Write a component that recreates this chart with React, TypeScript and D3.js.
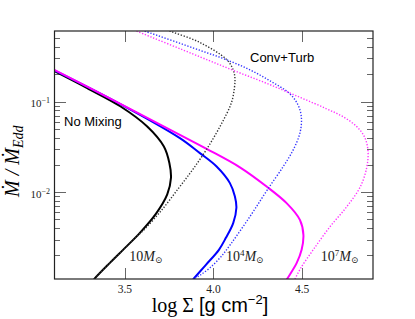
import React from "react";
import * as d3 from "d3";

const W = 415;
const H = 319;
const PLOT = { left: 54, top: 31, right: 373, bottom: 279 };

const xDomain: [number, number] = [3.1, 4.9];
const yDomain: [number, number] = [0.0011, 0.6];
const xTicks = [3.5, 4.0, 4.5];
const xTickLabels = ["3.5", "4.0", "4.5"];
const yMajorTicks = [0.1, 0.01];
const yTickExps = ["−1", "−2"];

// [log Sigma, Mdot/MdotEdd]
const noMix10: [number, number][] = [
  [3.099, 0.218], [3.287, 0.1406], [3.476, 0.0881], [3.626, 0.053], [3.72, 0.0319],
  [3.751, 0.021], [3.76, 0.01438], [3.739, 0.00945], [3.6749, 0.005761],
  [3.5847, 0.003555], [3.5096, 0.002522], [3.4153, 0.001658], [3.3279, 0.001104], [3.32, 0.00105],
];
const noMix1e4: [number, number][] = [
  [3.099, 0.2221], [3.4718, 0.0943], [3.8104, 0.03945], [3.9233, 0.02694], [4.0175, 0.01917],
  [4.0926, 0.01257], [4.1208, 0.00894], [4.1292, 0.00671], [4.1112, 0.00455],
  [4.07, 0.00313], [4.0305, 0.00231], [3.9571, 0.001576], [3.8866, 0.001096], [3.88, 0.00105],
];
const noMix1e7: [number, number][] = [
  [3.099, 0.2254], [3.4718, 0.095], [3.8104, 0.0429], [3.9611, 0.03005], [4.149, 0.01878],
  [4.2997, 0.01153], [4.4125, 0.00756], [4.4876, 0.00494], [4.5073, 0.00338],
  [4.4972, 0.00231], [4.469, 0.001646], [4.4159, 0.001104], [4.41, 0.00105],
];
const conv10: [number, number][] = [
  [3.6411, 0.7258], [3.754, 0.5984], [3.9233, 0.4479], [4.0739, 0.2908], [4.1112, 0.2238],
  [4.1208, 0.1827], [4.118, 0.1416], [4.101, 0.09676], [4.0418, 0.0553], [3.9628, 0.03005],
  [3.8837, 0.01785], [3.8047, 0.01115], [3.7088, 0.00638], [3.6185, 0.004036],
  [3.5621, 0.003171], [3.5096, 0.002522], [3.4153, 0.001658], [3.3279, 0.001104], [3.32, 0.00105],
];
const conv1e4: [number, number][] = [
  [3.5, 0.7112], [3.6072, 0.6031], [3.9233, 0.3673], [4.0739, 0.2886], [4.2054, 0.2238],
  [4.3183, 0.1693], [4.4312, 0.1216], [4.4791, 0.0897], [4.4961, 0.0661], [4.4876, 0.0448],
  [4.4498, 0.0293], [4.3934, 0.01917], [4.3037, 0.0106], [4.2308, 0.00638], [4.1659, 0.00414],
  [4.0982, 0.002688], [4.0418, 0.001931], [3.9797, 0.001461], [3.9233, 0.001207],
  [3.8866, 0.001096], [3.88, 0.00105],
];
const conv1e7: [number, number][] = [
  [3.4718, 0.7112], [3.566, 0.5984], [3.9233, 0.3113], [4.1112, 0.221], [4.2997, 0.1588],
  [4.4876, 0.1113], [4.6383, 0.0831], [4.7319, 0.0678], [4.8076, 0.053], [4.8516, 0.0408],
  [4.8713, 0.0293], [4.8657, 0.01917], [4.829, 0.01153], [4.7528, 0.00694], [4.6569, 0.00414],
  [4.5626, 0.00231], [4.4932, 0.001461], [4.4594, 0.001096], [4.455, 0.00105],
];

const solidSeries = [
  { data: noMix10, color: "#000000" },
  { data: noMix1e4, color: "#0000ff" },
  { data: noMix1e7, color: "#ff00ff" },
];
const dottedSeries = [
  { data: conv10, color: "#333333" },
  { data: conv1e4, color: "#3333ff" },
  { data: conv1e7, color: "#ff33ff" },
];

const massLabels = [
  { x: 3.525, y: 0.00175, base: "10", exp: "" },
  { x: 4.07, y: 0.00175, base: "10", exp: "4" },
  { x: 4.605, y: 0.00175, base: "10", exp: "7" },
];

export default function App() {
  const x = d3.scaleLinear().domain(xDomain).range([PLOT.left, PLOT.right]);
  const y = d3.scaleLog().domain(yDomain).range([PLOT.bottom, PLOT.top]);
  const line = d3
    .line<[number, number]>()
    .x((d) => x(d[0]))
    .y((d) => y(d[1]))
    .curve(d3.curveCatmullRom.alpha(0.5));

  const minor: number[] = [];
  for (let e = -3; e <= -1; e++) {
    for (let k = 2; k <= 9; k++) {
      const v = k * Math.pow(10, e);
      if (v > yDomain[0] && v < yDomain[1]) minor.push(v);
    }
  }

  const serif = "'Liberation Serif', 'DejaVu Serif', serif";
  const sans = "'Liberation Sans', Arial, sans-serif";
  const tickColor = "#666";

  return (
    <svg width={W} height={H} style={{ position: "absolute", left: 0, top: 0 }}>
      <defs>
        <clipPath id="plotclip">
          <rect x={PLOT.left} y={PLOT.top} width={PLOT.right - PLOT.left} height={PLOT.bottom - PLOT.top} />
        </clipPath>
      </defs>
      <rect x={0} y={0} width={W} height={H} fill="#fff" />

      {/* ticks */}
      <g stroke={tickColor} strokeWidth={1}>
        {xTicks.map((t, i) => (
          <g key={"xt" + i}>
            <line x1={Math.round(x(t)) + 0.5} x2={Math.round(x(t)) + 0.5} y1={PLOT.bottom} y2={PLOT.bottom - 11} />
            <line x1={Math.round(x(t)) + 0.5} x2={Math.round(x(t)) + 0.5} y1={PLOT.top} y2={PLOT.top + 11} />
          </g>
        ))}
        {yMajorTicks.map((t, i) => (
          <g key={"ym" + i}>
            <line x1={PLOT.left} x2={PLOT.left + 12} y1={Math.round(y(t)) + 0.5} y2={Math.round(y(t)) + 0.5} />
            <line x1={PLOT.right} x2={PLOT.right - 12} y1={Math.round(y(t)) + 0.5} y2={Math.round(y(t)) + 0.5} />
          </g>
        ))}
        {minor.map((t, i) => (
          <g key={"yn" + i}>
            <line x1={PLOT.left} x2={PLOT.left + 6} y1={Math.round(y(t)) + 0.5} y2={Math.round(y(t)) + 0.5} />
            <line x1={PLOT.right} x2={PLOT.right - 6} y1={Math.round(y(t)) + 0.5} y2={Math.round(y(t)) + 0.5} />
          </g>
        ))}
      </g>

      {/* curves */}
      <g clipPath="url(#plotclip)" fill="none">
        {solidSeries.map((s, i) => (
          <path key={"s" + i} d={line(s.data) || ""} stroke={s.color} strokeWidth={2} />
        ))}
        {dottedSeries.map((s, i) => (
          <path key={"d" + i} d={line(s.data) || ""} stroke={s.color} strokeWidth={1.4} strokeDasharray="1.3,1.7" />
        ))}
      </g>

      {/* frame */}
      <rect x={PLOT.left + 0.5} y={PLOT.top} width={PLOT.right - PLOT.left - 0.5} height={PLOT.bottom - PLOT.top}
        fill="none" stroke="#222" strokeWidth={1.2} />

      {/* tick labels */}
      {xTicks.map((t, i) => (
        <text key={"xl" + i} x={x(t)} y={PLOT.bottom + 14} textAnchor="middle" fontFamily={serif} fontSize={11.5} fill="#222">
          {xTickLabels[i]}
        </text>
      ))}
      {yMajorTicks.map((t, i) => (
        <text key={"yl" + i} x={50} y={y(t) + 5.5} textAnchor="end" fontFamily={serif} fontSize={11} fill="#222">
          10<tspan dy={-4} fontSize={8}>{yTickExps[i]}</tspan>
        </text>
      ))}

      {/* annotations */}
      <text x={64} y={126} fontFamily={sans} fontSize={13} fill="#000">No Mixing</text>
      <text x={250} y={61.5} fontFamily={sans} fontSize={13} fill="#000">Conv+Turb</text>
      {massLabels.map((m, i) => (
        <text key={"ml" + i} x={x(m.x)} y={y(m.y)} fontFamily={serif} fontSize={14} fill="#222">
          {m.base}
          {m.exp ? <tspan dy={-5} fontSize={9}>{m.exp}</tspan> : null}
          <tspan dy={m.exp ? 5 : 0} fontStyle="italic">M</tspan>
          <tspan dy={2} fontSize={9}>⊙</tspan>
        </text>
      ))}

      {/* axis titles */}
      <text x={151.7} y={312} fontSize={20} fill="#000">
        <tspan fontFamily={serif}>log Σ </tspan>
        <tspan fontFamily={sans}>[g cm</tspan>
        <tspan fontFamily={sans} fontSize={13} dy={-8}>−2</tspan>
        <tspan fontFamily={sans} dy={8}>]</tspan>
      </text>
      <text transform="translate(18.5,197) rotate(-90)" fontFamily={serif} fontSize={20} fontStyle="italic" fill="#000">
        Ṁ / Ṁ<tspan fontSize={14} dy={4}>Edd</tspan>
      </text>
    </svg>
  );
}
